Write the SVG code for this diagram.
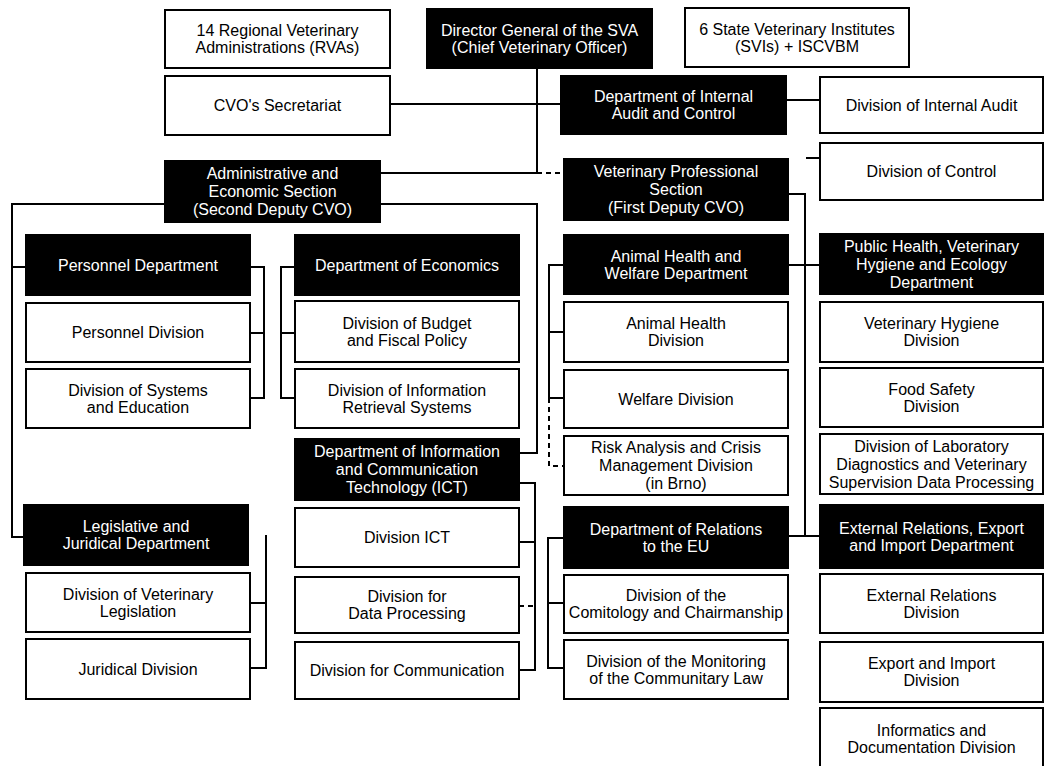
<svg xmlns="http://www.w3.org/2000/svg" width="1045" height="766" viewBox="0 0 1045 766">
<style>
.bk{fill:#000;stroke:#000;stroke-width:2}
.wt{fill:#fff;stroke:#000;stroke-width:2}
text{font-family:"Liberation Sans",Arial,sans-serif;font-size:16px;text-anchor:middle}
.tw{fill:#fff}
.tb{fill:#000}
.c{fill:none;stroke:#000;stroke-width:2}
.d{fill:none;stroke:#000;stroke-width:2;stroke-dasharray:5 4}
</style>
<rect width="1045" height="766" fill="#fff"/>
<g id="connectors">
<path class="c" d="M537,68 V173"/>
<path class="c" d="M390,104 H561"/>
<path class="c" d="M786,100 H820"/>
<path class="c" d="M806,158 H820"/>
<path class="c" d="M380,173 H537"/>
<path class="d" d="M537,173 H564"/>
<path class="c" d="M380,204 H537 V453 H519"/>
<path class="c" d="M165,204 H12 V537 H24"/>
<path class="c" d="M12,267 H26"/>
<path class="c" d="M250,267 H264 V398 H250 M250,333 H264"/>
<path class="c" d="M295,267 H281 V398 H295 M281,333 H295"/>
<path class="c" d="M266,535 V668 H250 M250,603 H266"/>
<path class="c" d="M519,483 H535 V670 H519 M519,542 H535"/>
<path class="d" d="M519,606 H535"/>
<path class="c" d="M564,265 H549 V398 H564 M549,332 H564"/>
<path class="d" d="M549,398 V466 H564"/>
<path class="c" d="M564,538 H548 V668 H564 M548,603 H564"/>
<path class="c" d="M788,194 H805 V536"/>
<path class="c" d="M788,265 H820"/>
<path class="c" d="M788,536 H820"/>
</g>
<g id="n-rva"><rect class="wt" x="165" y="10" width="225" height="58"/><text class="tb"><tspan x="277.5" y="36">14 Regional Veterinary</tspan><tspan x="277.5" y="53">Administrations (RVAs)</tspan></text></g>
<g id="n-dg"><rect class="bk" x="427" y="9" width="225" height="59"/><text class="tw"><tspan x="539.5" y="35.5">Director General of the SVA</tspan><tspan x="539.5" y="52.5">(Chief Veterinary Officer)</tspan></text></g>
<g id="n-svi"><rect class="wt" x="685" y="8" width="224" height="59"/><text class="tb"><tspan x="797" y="34.5">6 State Veterinary Institutes</tspan><tspan x="797" y="51.5">(SVIs) + ISCVBM</tspan></text></g>
<g id="n-cvo"><rect class="wt" x="165" y="76" width="225" height="59"/><text class="tb"><tspan x="277.5" y="111">CVO's Secretariat</tspan></text></g>
<g id="n-iac"><rect class="bk" x="561" y="76" width="225" height="58"/><text class="tw"><tspan x="673.5" y="101.5">Department of Internal</tspan><tspan x="673.5" y="118.5">Audit and Control</tspan></text></g>
<g id="n-dia"><rect class="wt" x="820" y="77" width="223" height="56"/><text class="tb"><tspan x="931.5" y="110.5">Division of Internal Audit</tspan></text></g>
<g id="n-dc"><rect class="wt" x="820" y="143" width="223" height="57"/><text class="tb"><tspan x="931.5" y="177">Division of Control</tspan></text></g>
<g id="n-aes"><rect class="bk" x="165" y="161" width="215" height="61"/><text class="tw"><tspan x="272.5" y="179">Administrative and</tspan><tspan x="272.5" y="197">Economic Section</tspan><tspan x="272.5" y="215">(Second Deputy CVO)</tspan></text></g>
<g id="n-vps"><rect class="bk" x="564" y="159" width="224" height="61"/><text class="tw"><tspan x="676" y="177">Veterinary Professional</tspan><tspan x="676" y="195">Section</tspan><tspan x="676" y="213">(First Deputy CVO)</tspan></text></g>
<g id="n-pd"><rect class="bk" x="26" y="235" width="224" height="60"/><text class="tw"><tspan x="138" y="270.5">Personnel Department</tspan></text></g>
<g id="n-pdiv"><rect class="wt" x="26" y="303" width="224" height="59"/><text class="tb"><tspan x="138" y="338">Personnel Division</tspan></text></g>
<g id="n-dse"><rect class="wt" x="26" y="369" width="224" height="59"/><text class="tb"><tspan x="138" y="395.5">Division of Systems</tspan><tspan x="138" y="412.5">and Education</tspan></text></g>
<g id="n-ljd"><rect class="bk" x="24" y="505" width="224" height="60"/><text class="tw"><tspan x="136" y="532">Legislative and</tspan><tspan x="136" y="549">Juridical Department</tspan></text></g>
<g id="n-dvl"><rect class="wt" x="26" y="573" width="224" height="59"/><text class="tb"><tspan x="138" y="599.5">Division of Veterinary</tspan><tspan x="138" y="616.5">Legislation</tspan></text></g>
<g id="n-jd"><rect class="wt" x="26" y="639" width="224" height="60"/><text class="tb"><tspan x="138" y="674.5">Juridical Division</tspan></text></g>
<g id="n-de"><rect class="bk" x="295" y="235" width="224" height="60"/><text class="tw"><tspan x="407" y="270.5">Department of Economics</tspan></text></g>
<g id="n-dbfp"><rect class="wt" x="295" y="301" width="224" height="61"/><text class="tb"><tspan x="407" y="328.5">Division of Budget</tspan><tspan x="407" y="345.5">and Fiscal Policy</tspan></text></g>
<g id="n-dirs"><rect class="wt" x="295" y="369" width="224" height="59"/><text class="tb"><tspan x="407" y="395.5">Division of Information</tspan><tspan x="407" y="412.5">Retrieval Systems</tspan></text></g>
<g id="n-dict"><rect class="bk" x="295" y="439" width="224" height="61"/><text class="tw"><tspan x="407" y="457">Department of Information</tspan><tspan x="407" y="475">and Communication</tspan><tspan x="407" y="493">Technology (ICT)</tspan></text></g>
<g id="n-divict"><rect class="wt" x="295" y="508" width="224" height="59"/><text class="tb"><tspan x="407" y="543">Division ICT</tspan></text></g>
<g id="n-ddp"><rect class="wt" x="295" y="577" width="224" height="56"/><text class="tb"><tspan x="407" y="602">Division for</tspan><tspan x="407" y="619">Data Processing</tspan></text></g>
<g id="n-dcom"><rect class="wt" x="295" y="642" width="224" height="57"/><text class="tb"><tspan x="407" y="676">Division for Communication</tspan></text></g>
<g id="n-ahw"><rect class="bk" x="564" y="235" width="224" height="59"/><text class="tw"><tspan x="676" y="261.5">Animal Health and</tspan><tspan x="676" y="278.5">Welfare Department</tspan></text></g>
<g id="n-ahd"><rect class="wt" x="564" y="302" width="224" height="60"/><text class="tb"><tspan x="676" y="329">Animal Health</tspan><tspan x="676" y="346">Division</tspan></text></g>
<g id="n-wd"><rect class="wt" x="564" y="370" width="224" height="58"/><text class="tb"><tspan x="676" y="404.5">Welfare Division</tspan></text></g>
<g id="n-racm"><rect class="wt" x="564" y="436" width="224" height="59"/><text class="tb"><tspan x="676" y="453">Risk Analysis and Crisis</tspan><tspan x="676" y="471">Management Division</tspan><tspan x="676" y="489">(in Brno)</tspan></text></g>
<g id="n-eu"><rect class="bk" x="564" y="507" width="224" height="61"/><text class="tw"><tspan x="676" y="534.5">Department of Relations</tspan><tspan x="676" y="551.5">to the EU</tspan></text></g>
<g id="n-cc"><rect class="wt" x="564" y="575" width="224" height="58"/><text class="tb"><tspan x="676" y="601">Division of the</tspan><tspan x="676" y="618">Comitology and Chairmanship</tspan></text></g>
<g id="n-mcl"><rect class="wt" x="564" y="640" width="224" height="59"/><text class="tb"><tspan x="676" y="666.5">Division of the Monitoring</tspan><tspan x="676" y="683.5">of the Communitary Law</tspan></text></g>
<g id="n-ph"><rect class="bk" x="820" y="234" width="223" height="60"/><text class="tw"><tspan x="931.5" y="251.5">Public Health, Veterinary</tspan><tspan x="931.5" y="269.5">Hygiene and Ecology</tspan><tspan x="931.5" y="287.5">Department</tspan></text></g>
<g id="n-vhd"><rect class="wt" x="820" y="302" width="223" height="60"/><text class="tb"><tspan x="931.5" y="329">Veterinary Hygiene</tspan><tspan x="931.5" y="346">Division</tspan></text></g>
<g id="n-fsd"><rect class="wt" x="820" y="368" width="223" height="59"/><text class="tb"><tspan x="931.5" y="394.5">Food Safety</tspan><tspan x="931.5" y="411.5">Division</tspan></text></g>
<g id="n-ldv"><rect class="wt" x="820" y="434" width="223" height="60"/><text class="tb"><tspan x="931.5" y="451.5">Division of Laboratory</tspan><tspan x="931.5" y="469.5">Diagnostics and Veterinary</tspan><tspan x="931.5" y="487.5">Supervision Data Processing</tspan></text></g>
<g id="n-er"><rect class="bk" x="820" y="505" width="223" height="63"/><text class="tw"><tspan x="931.5" y="533.5">External Relations, Export</tspan><tspan x="931.5" y="550.5">and Import Department</tspan></text></g>
<g id="n-erd"><rect class="wt" x="820" y="574" width="223" height="59"/><text class="tb"><tspan x="931.5" y="600.5">External Relations</tspan><tspan x="931.5" y="617.5">Division</tspan></text></g>
<g id="n-eid"><rect class="wt" x="820" y="642" width="223" height="60"/><text class="tb"><tspan x="931.5" y="669">Export and Import</tspan><tspan x="931.5" y="686">Division</tspan></text></g>
<g id="n-idd"><rect class="wt" x="820" y="708" width="223" height="60"/><text class="tb"><tspan x="931.5" y="736">Informatics and</tspan><tspan x="931.5" y="753">Documentation Division</tspan></text></g>
</svg>
